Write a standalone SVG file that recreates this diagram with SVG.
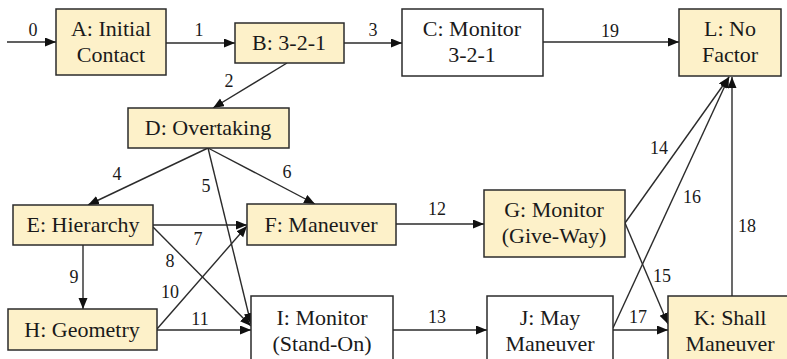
<svg xmlns="http://www.w3.org/2000/svg" width="787" height="359" viewBox="0 0 787 359">
<style>
.box{fill:#FDF1C9;stroke:#2b2b2b;stroke-width:1.5}
.wbox{fill:#ffffff;stroke:#2b2b2b;stroke-width:1.5}
.t{font-size:22px;fill:#1a1a1a;text-anchor:middle}
.l{font-size:18px;fill:#1a1a1a;text-anchor:middle}
.e{fill:none;stroke:#2b2b2b;stroke-width:1.4;marker-end:url(#arr)}
</style>
<defs>
<marker id="arr" markerUnits="userSpaceOnUse" markerWidth="12" markerHeight="10" refX="11" refY="4.5" orient="auto">
<path d="M0,0 L11,4.5 L0,9 z" fill="#111"/>
</marker>
</defs>
<rect width="787" height="359" fill="#ffffff"/>
<g font-family="Liberation Serif, Times New Roman, DejaVu Serif, serif">
<g id="connectors">
<line class="e" x1="7" y1="42" x2="56" y2="42"/>
<line class="e" x1="166" y1="43" x2="235" y2="43"/>
<line class="e" x1="344" y1="43" x2="402" y2="43"/>
<line class="e" x1="543" y1="42" x2="679" y2="42"/>
<line class="e" x1="287" y1="63" x2="213" y2="108"/>
<line class="e" x1="208" y1="148" x2="88" y2="205"/>
<line class="e" x1="208" y1="148" x2="251" y2="324"/>
<line class="e" x1="208" y1="148" x2="315" y2="204"/>
<line class="e" x1="153" y1="225" x2="247" y2="225"/>
<line class="e" x1="153" y1="227" x2="251" y2="326"/>
<line class="e" x1="83" y1="245" x2="83" y2="309"/>
<line class="e" x1="157" y1="329" x2="247" y2="226"/>
<line class="e" x1="157" y1="330" x2="251" y2="330"/>
<line class="e" x1="396" y1="224" x2="484" y2="224"/>
<line class="e" x1="393" y1="330" x2="487" y2="330"/>
<line class="e" x1="625" y1="223" x2="729" y2="77"/>
<line class="e" x1="625" y1="223" x2="668" y2="324"/>
<line class="e" x1="613" y1="328" x2="729" y2="77"/>
<line class="e" x1="613" y1="330" x2="668" y2="330"/>
<line class="e" x1="732" y1="296" x2="732" y2="77"/>
<text class="l" x="33" y="36">0</text>
<text class="l" x="199" y="36">1</text>
<text class="l" x="373" y="36">3</text>
<text class="l" x="610" y="37">19</text>
<text class="l" x="229" y="87">2</text>
<text class="l" x="117" y="180">4</text>
<text class="l" x="206" y="192">5</text>
<text class="l" x="287" y="178">6</text>
<text class="l" x="198" y="245">7</text>
<text class="l" x="170" y="267">8</text>
<text class="l" x="74" y="283">9</text>
<text class="l" x="170" y="298">10</text>
<text class="l" x="200" y="325">11</text>
<text class="l" x="437" y="215">12</text>
<text class="l" x="437" y="323">13</text>
<text class="l" x="659" y="154">14</text>
<text class="l" x="662" y="282">15</text>
<text class="l" x="692" y="203">16</text>
<text class="l" x="638" y="323">17</text>
<text class="l" x="747" y="232">18</text>
</g>
<g id="A"><rect class="box" x="56" y="9" width="110" height="66"/><text class="t" x="111" y="36">A: Initial</text><text class="t" x="111" y="62">Contact</text></g>
<g id="B"><rect class="box" x="235" y="23" width="109" height="40"/><text class="t" x="289" y="50">B: 3-2-1</text></g>
<g id="C"><rect class="wbox" x="402" y="9" width="141" height="67"/><text class="t" x="472" y="36">C: Monitor</text><text class="t" x="472" y="62">3-2-1</text></g>
<g id="L"><rect class="box" x="679" y="9" width="102" height="67"/><text class="t" x="730" y="36">L: No</text><text class="t" x="730" y="62">Factor</text></g>
<g id="D"><rect class="box" x="128" y="108" width="161" height="40"/><text class="t" x="208" y="135">D: Overtaking</text></g>
<g id="E"><rect class="box" x="13" y="205" width="140" height="40"/><text class="t" x="83" y="232">E: Hierarchy</text></g>
<g id="F"><rect class="box" x="247" y="204" width="149" height="41"/><text class="t" x="321" y="232">F: Maneuver</text></g>
<g id="G"><rect class="box" x="484" y="190" width="141" height="67"/><text class="t" x="554" y="217">G: Monitor</text><text class="t" x="554" y="243">(Give-Way)</text></g>
<g id="H"><rect class="box" x="8" y="309" width="149" height="41"/><text class="t" x="82" y="337">H: Geometry</text></g>
<g id="I"><rect class="wbox" x="251" y="296" width="142" height="70"/><text class="t" x="322" y="325">I: Monitor</text><text class="t" x="322" y="351">(Stand-On)</text></g>
<g id="J"><rect class="wbox" x="487" y="296" width="126" height="70"/><text class="t" x="550" y="325">J: May</text><text class="t" x="550" y="351">Maneuver</text></g>
<g id="K"><rect class="box" x="668" y="296" width="126" height="70"/><text class="t" x="730" y="325">K: Shall</text><text class="t" x="730" y="351">Maneuver</text></g>
</g>
</svg>
